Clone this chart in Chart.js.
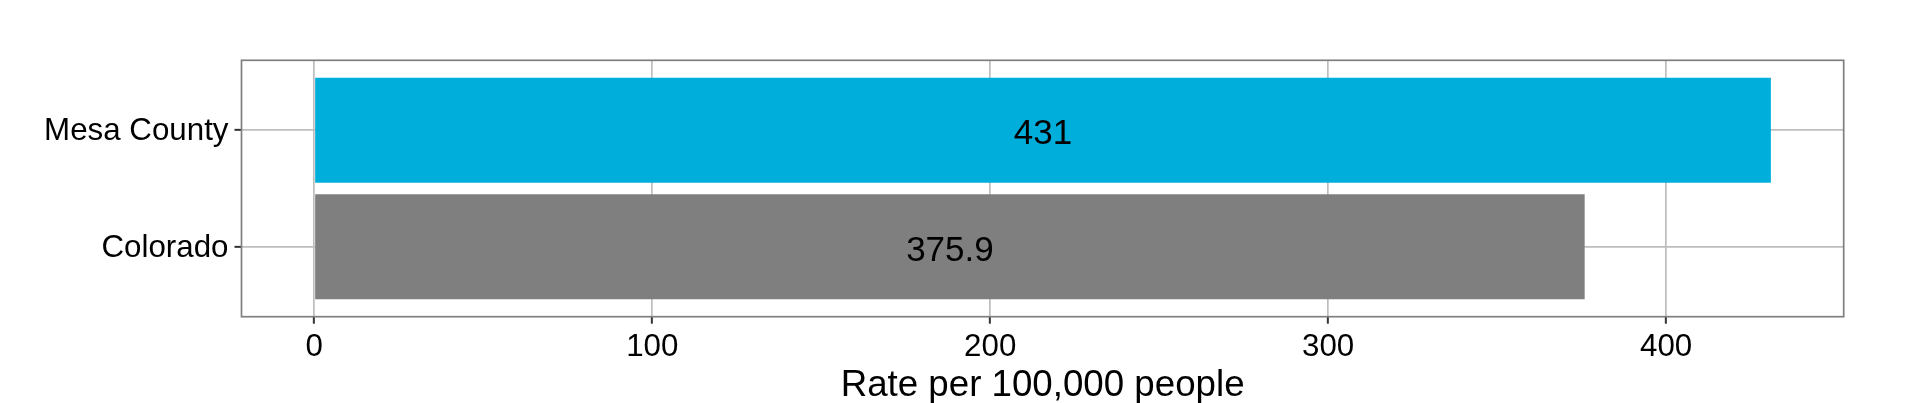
<!DOCTYPE html>
<html>
<head>
<meta charset="utf-8">
<script src="https://cdn.jsdelivr.net/npm/chart.js@4"></script>
<style>
  html, body { margin: 0; padding: 0; background: #ffffff; }
</style>
</head>
<body>
<canvas id="chart1" width="1920" height="403"></canvas>
<script>
// categories, bottom to top (ggplot order)
const categories = ['Colorado', 'Mesa County'];
const positions = [1, 2];
const rates = [375.9, 431];
const rateLabels = ['375.9', '431'];
const barColors = ['#7f7f7f', '#00aedb'];
const xTicks = [0, 100, 200, 300, 400];

const ctx1 = document.getElementById('chart1').getContext('2d');
const fontFamily = '"Liberation Sans", Arial, sans-serif';

// panel border + value labels drawn over the bars
const panelPlugin = {
  id: 'panel',
  afterDatasetsDraw(chart) {
    const c = chart.ctx;
    const a = chart.chartArea;
    c.save();
    c.strokeStyle = '#7f7f7f';
    c.lineWidth = 1.7;
    c.strokeRect(a.left, a.top, a.right - a.left, a.bottom - a.top);

    c.fillStyle = '#000000';
    c.font = '35px ' + fontFamily;
    c.textAlign = 'center';
    c.textBaseline = 'alphabetic';
    chart.getDatasetMeta(0).data.forEach(function(bar, i) {
      const p = bar.getCenterPoint();
      c.fillText(rateLabels[i], p.x, p.y + 14);
    });
    c.restore();
  }
};

new Chart(ctx1, {
  type: 'bar',
  data: {
    datasets: [{
      data: rates.map((r, i) => ({ x: r, y: positions[i] })),
      backgroundColor: barColors,
      borderWidth: 0,
      categoryPercentage: 1,
      barPercentage: 0.9
    }]
  },
  options: {
    indexAxis: 'y',
    responsive: false,
    animation: false,
    devicePixelRatio: 1,
    layout: { padding: { left: 0, right: 76.3, top: 60.3, bottom: 0 } },
    plugins: {
      legend: { display: false },
      tooltip: { enabled: false }
    },
    scales: {
      x: {
        type: 'linear',
        min: -21.55,
        max: 452.55,
        afterBuildTicks: function(scale) {
          scale.ticks = xTicks.map(v => ({ value: v }));
        },
        afterFit: function(scale) { scale.height = 86.3; },
        border: { display: false },
        grid: {
          color: '#bebebe',
          lineWidth: 1.7,
          drawTicks: true,
          tickLength: 7,
          tickColor: '#333333',
          tickWidth: 2
        },
        ticks: {
          color: '#000000',
          padding: 5,
          maxRotation: 0,
          font: { family: fontFamily, size: 31.3 }
        },
        title: {
          display: true,
          text: 'Rate per 100,000 people',
          color: '#000000',
          padding: { top: 0, bottom: -5 },
          font: { family: fontFamily, size: 36.7 }
        }
      },
      y: {
        type: 'linear',
        min: 0.4,
        max: 2.6,
        offset: false,
        afterBuildTicks: function(scale) {
          scale.ticks = positions.map(v => ({ value: v }));
        },
        afterFit: function(scale) { scale.width = 241.5; },
        border: { display: false },
        grid: {
          offset: false,
          color: '#bebebe',
          lineWidth: 1.7,
          drawTicks: true,
          tickLength: 7,
          tickColor: '#333333',
          tickWidth: 2
        },
        ticks: {
          color: '#000000',
          padding: 6,
          labelOffset: 1.5,
          font: { family: fontFamily, size: 31.3 },
          callback: function(value) {
            return categories[positions.indexOf(value)];
          }
        }
      }
    }
  },
  plugins: [panelPlugin]
});
</script>
</body>
</html>
